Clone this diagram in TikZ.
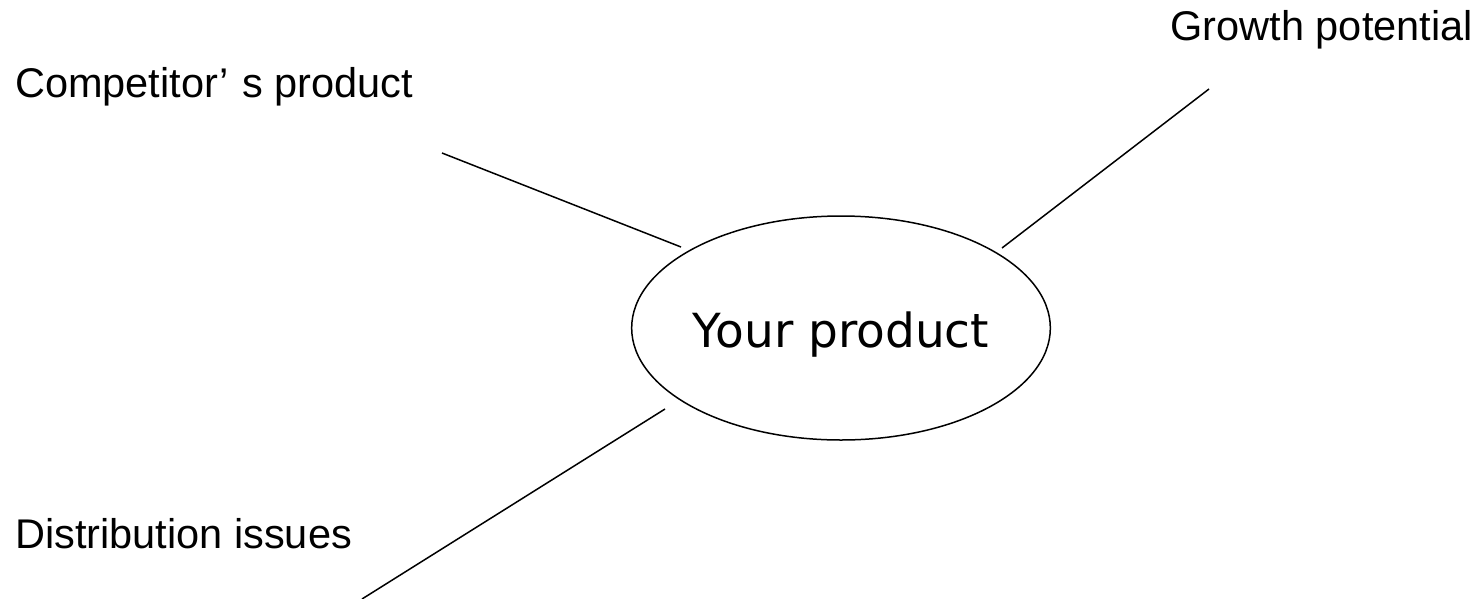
\documentclass[tikz,border=0pt]{standalone}
\usepackage{fontspec}
\setmainfont{Liberation Sans}
\newfontfamily\centerfont{DejaVu Sans}
\usetikzlibrary{shapes.geometric}
\begin{document}
\begin{tikzpicture}[x=1pt,y=-1pt,
  lbl/.style={inner sep=0pt,font=\fontsize{41.5}{50}\selectfont},
  hub/.style={draw,ellipse,line width=1.5pt,inner sep=0pt,minimum width=384pt,minimum height=224pt,
    text height=38pt,text depth=0pt,font=\centerfont\fontsize{47}{56}\selectfont},
  spoke/.style={line width=1.5pt}]
\useasboundingbox (0,0) rectangle (1483,598);
\node[hub] (your) at (841,328) {Your product};
\node[lbl,anchor=base west] (comp) at (15,97) {Competitor’\kern2pt\ s product};
\node[lbl,anchor=base east] (grow) at (1473,40) {Growth potential};
\node[lbl,anchor=base west] (dist) at (15,548) {Distribution issues};
\coordinate (c1) at (442,153);
\coordinate (c2) at (681,247);
\coordinate (g1) at (1209,89);
\coordinate (g2) at (1002,248);
\coordinate (d1) at (665,409);
\coordinate (d2) at (362,599);
\draw[spoke] (c1) -- (c2);
\draw[spoke] (g1) -- (g2);
\draw[spoke] (d1) -- (d2);
\end{tikzpicture}
\end{document}
